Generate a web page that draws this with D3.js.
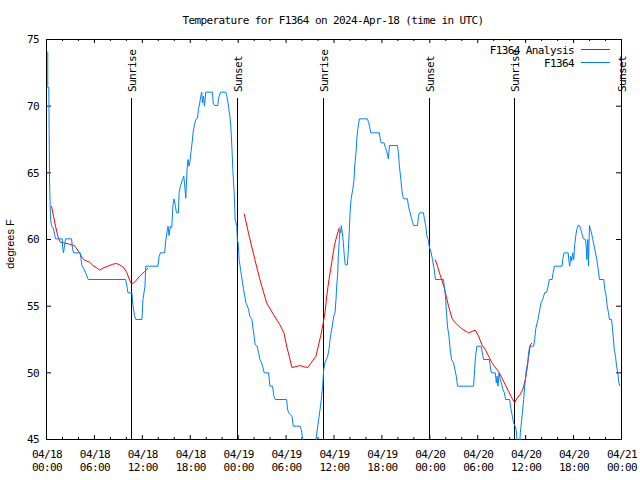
<!DOCTYPE html>
<html><head><meta charset="utf-8">
<script src="https://cdn.jsdelivr.net/npm/d3@7"></script>
<style>body{margin:0;background:#fff} svg{display:block}</style>
</head><body><svg id="c" width="640" height="480"></svg>
<script>
// ---------- data (hours since 2024-04-18 00:00 UTC, degrees F) ----------
const titleText = "Temperature for F1364 on 2024-Apr-18 (time in UTC)";
const yLabel = "degrees F";
const seriesNames = ["F1364 Analysis", "F1364"];
const yTicks = [45, 50, 55, 60, 65, 70, 75];
const xMajorHours = [0, 6, 12, 18, 24, 30, 36, 42, 48, 54, 60, 66, 72];
const xTickDates = ["04/18","04/18","04/18","04/18","04/19","04/19","04/19","04/19","04/20","04/20","04/20","04/20","04/21"];
const xTickTimes = ["00:00","06:00","12:00","18:00","00:00","06:00","12:00","18:00","00:00","06:00","12:00","18:00","00:00"];
const sunHours = [10.62, 23.92, 34.66, 47.96, 58.62, 71.99];
const sunLabels = ["Sunrise","Sunset","Sunrise","Sunset","Sunrise","Sunset"];

const observed = [[0.16,74.1],[0.16,71.4],[0.29,71.4],[0.38,64.5],[0.46,62.55],[0.50,61.5],[0.63,61.05],[0.88,60.8],[1.13,60.05],[1.97,60.05],[2.04,59.3],[2.13,59.0],[2.38,60.05],[3.14,60.05],[3.26,59.3],[3.39,59.0],[4.23,59.0],[4.33,58.5],[4.43,58.05],[4.68,57.8],[4.89,57.5],[5.23,57.0],[9.91,57.0],[10.07,56.5],[10.20,56.0],[10.70,56.0],[10.83,55.0],[11.04,54.25],[11.20,54.0],[11.95,54.0],[12.08,55.5],[12.33,56.5],[12.42,58.0],[13.96,58.0],[14.09,58.7],[14.26,59.0],[14.80,59.0],[14.93,59.9],[15.14,60.75],[15.22,61.0],[15.34,60.3],[15.52,61.0],[15.68,60.9],[15.84,62.6],[15.97,63.05],[16.14,62.5],[16.27,62.0],[16.52,62.0],[16.60,63.5],[16.77,64.0],[17.02,64.5],[17.19,64.75],[17.31,64.0],[17.44,63.1],[17.60,65.25],[17.72,66.0],[17.85,65.5],[17.94,65.75],[18.10,66.6],[18.23,67.25],[18.35,68.0],[18.53,68.6],[18.69,69.0],[18.90,69.1],[19.03,69.75],[19.19,70.25],[19.32,70.75],[19.44,71.05],[19.53,70.25],[19.66,70.75],[19.78,70.0],[19.94,71.05],[20.79,71.05],[20.86,70.25],[21.04,70.05],[21.45,70.05],[21.54,70.6],[21.79,71.05],[22.45,71.05],[22.58,70.75],[22.74,70.25],[22.87,69.6],[22.96,69.25],[23.08,68.5],[23.21,67.0],[23.33,65.25],[23.50,63.5],[23.62,61.5],[23.83,61.0],[23.90,59.9],[24.00,59.75],[24.12,58.5],[24.30,57.75],[24.42,57.25],[24.55,56.75],[24.67,56.25],[24.84,55.75],[24.96,55.25],[25.13,55.05],[25.30,54.75],[25.46,54.25],[25.72,54.0],[25.88,53.25],[26.00,52.75],[26.13,52.1],[26.38,52.0],[26.56,51.5],[26.72,51.0],[26.93,50.75],[27.06,50.5],[27.26,50.0],[27.81,50.0],[27.97,49.0],[28.31,49.0],[28.47,48.25],[28.64,48.0],[30.07,48.0],[30.19,47.25],[30.32,47.0],[30.73,46.75],[30.90,46.0],[31.74,46.0],[31.90,45.75],[32.08,45.0],[32.24,44.5],[33.24,44.3],[33.74,45.0],[33.91,45.75],[34.08,46.5],[34.25,47.25],[34.41,48.0],[34.58,49.0],[34.71,50.25],[34.87,50.75],[35.04,51.0],[35.21,51.25],[35.37,51.75],[35.50,52.5],[35.63,53.0],[35.79,53.5],[35.96,54.25],[36.13,54.5],[36.25,55.5],[36.34,56.5],[36.47,57.5],[36.54,58.75],[36.67,60.0],[36.75,60.75],[36.84,60.5],[36.92,61.05],[37.04,60.5],[37.17,59.75],[37.29,58.75],[37.42,58.1],[37.67,58.1],[37.80,59.25],[37.92,60.75],[38.01,62.0],[38.13,63.0],[38.35,63.75],[38.51,64.5],[38.60,65.6],[38.76,66.5],[38.85,67.5],[38.97,68.25],[39.18,69.05],[40.18,69.05],[40.35,68.75],[40.48,68.4],[40.60,68.0],[41.68,68.0],[41.77,67.6],[41.90,67.25],[42.27,67.25],[42.44,66.9],[42.61,66.6],[42.81,66.05],[42.94,67.05],[43.94,67.05],[44.07,66.5],[44.19,65.5],[44.37,64.5],[44.49,63.75],[44.62,63.25],[44.74,63.05],[45.20,63.05],[45.32,62.5],[45.53,62.0],[45.70,61.6],[45.87,61.25],[45.95,61.05],[46.45,61.05],[46.58,61.75],[46.70,62.0],[47.20,62.0],[47.33,61.5],[47.50,61.0],[47.63,60.25],[47.79,60.0],[47.92,59.5],[48.17,59.0],[48.33,58.5],[48.55,57.75],[48.71,57.0],[49.71,57.0],[49.80,56.5],[49.96,55.75],[50.09,54.5],[50.21,53.5],[50.39,52.75],[50.55,51.75],[50.72,51.0],[50.97,50.75],[51.14,50.25],[51.31,49.75],[51.47,49.0],[53.48,49.0],[53.60,50.25],[53.73,51.25],[53.90,52.0],[54.44,52.0],[54.57,51.5],[54.73,51.0],[55.44,51.0],[55.57,50.5],[55.70,50.0],[56.20,50.0],[56.32,49.25],[56.41,49.75],[56.54,49.0],[56.66,50.0],[56.82,49.5],[56.95,49.25],[57.16,48.75],[57.33,48.5],[57.49,48.0],[57.99,48.0],[58.17,47.25],[58.33,46.75],[58.49,46.25],[58.67,46.0],[58.80,45.75],[58.92,45.0],[59.05,44.6],[59.25,44.6],[59.33,45.5],[59.46,46.25],[59.59,47.0],[59.75,48.0],[59.92,49.25],[60.09,50.25],[60.25,50.75],[60.37,51.5],[60.50,52.0],[61.00,52.0],[61.13,52.5],[61.25,53.25],[61.43,53.75],[61.55,54.0],[61.76,54.75],[61.93,55.25],[62.13,55.5],[62.26,55.75],[62.38,56.0],[62.63,56.05],[62.81,56.5],[62.97,57.0],[63.31,57.0],[63.44,57.5],[63.60,58.0],[64.56,58.0],[64.64,58.5],[64.81,59.0],[65.32,59.0],[65.39,58.5],[65.52,58.0],[65.64,58.75],[65.77,58.4],[65.89,59.0],[66.02,58.5],[66.14,59.6],[66.27,60.25],[66.40,60.75],[66.57,61.05],[66.74,61.05],[66.90,60.75],[67.07,60.4],[67.24,60.05],[67.49,60.0],[67.61,59.25],[67.65,58.5],[67.78,60.0],[67.86,58.0],[67.99,61.05],[68.11,60.75],[68.24,60.5],[68.40,60.0],[68.58,59.5],[68.74,59.0],[68.91,58.5],[69.08,57.75],[69.24,57.0],[69.78,57.0],[69.91,56.25],[70.08,55.75],[70.21,55.0],[70.37,54.5],[70.50,54.0],[70.75,54.0],[70.84,53.5],[70.96,52.75],[71.09,51.75],[71.25,51.25],[71.38,50.5],[71.54,50.0],[71.67,49.25],[71.79,49.0]];

const analysisDay1 = [[0.63,62.5],[0.88,61.75],[1.13,61.0],[1.42,60.25],[1.72,59.8],[2.13,59.75],[2.89,59.65],[3.51,59.55],[3.80,59.3],[4.14,59.0],[4.48,58.6],[4.77,58.45],[5.39,58.3],[5.81,58.05],[6.23,57.9],[6.65,57.7],[7.06,57.85],[7.69,58.0],[8.32,58.15],[8.74,58.2],[9.16,58.1],[9.66,57.9],[10.07,57.5],[10.41,56.95],[10.66,56.65],[11.04,56.8],[11.67,57.25],[12.29,57.6],[12.71,57.85]];
const analysisDay2 = [[24.75,61.95],[25.38,60.25],[26.09,58.5],[26.72,57.0],[27.56,55.25],[28.39,54.4],[29.23,53.6],[29.73,53.0],[30.07,52.0],[30.39,51.25],[30.73,50.4],[31.11,50.45],[31.74,50.55],[32.24,50.45],[32.70,50.4],[33.33,50.9],[33.74,51.25],[34.03,52.0],[34.33,52.75],[34.58,53.5],[34.87,54.5],[35.09,55.75],[35.37,57.0],[35.71,58.25],[36.04,59.5],[36.34,60.25],[36.67,60.9]];
const analysisDay3 = [[48.67,58.5],[48.96,58.0],[49.21,57.5],[49.80,56.4],[50.05,55.75],[50.34,55.0],[50.77,54.1],[51.18,53.75],[52.02,53.3],[52.85,53.0],[53.69,53.2],[54.10,52.75],[54.53,52.1],[54.94,51.75],[55.36,51.25],[55.78,50.75],[56.20,50.4],[56.61,50.1],[57.04,49.6],[57.45,49.1],[57.87,48.6],[58.29,48.1],[58.62,47.75],[58.92,48.1],[59.33,48.4],[59.67,48.8],[59.96,49.5],[60.17,50.25],[60.37,51.25],[60.59,52.1],[60.80,52.25]];

// ---------- drawing ----------
const RED = "#ff0000", BLUE = "#0080ff";
const MONO = "'DejaVu Sans Mono', monospace";
const start = Date.UTC(2024, 3, 18);
const toDate = h => new Date(start + h * 3600e3);

const svg = d3.select("#c");
const x = d3.scaleUtc().domain([toDate(0), toDate(72)]).range([46, 621]);
const y = d3.scaleLinear().domain([45, 75]).range([439, 39]);

function monoText(sel, size) {
  sel.attr("font-family", MONO).attr("font-size", size).attr("letter-spacing", "-0.6px").attr("fill", "#000");
}

// clip
svg.append("defs").append("clipPath").attr("id", "plot")
  .append("rect").attr("x", 46).attr("y", 39).attr("width", 576).attr("height", 401);

// axes (ticks point inward)
const minorHours = d3.range(0, 73, 2).filter(h => h % 6 !== 0);
function styleAxis(g) {
  g.select(".domain").remove();
  g.selectAll("line").attr("stroke", "#000");
}
svg.append("g").attr("transform", "translate(0,439)")
  .call(d3.axisBottom(x).tickValues(minorHours.map(toDate)).tickSize(-2).tickFormat(""))
  .call(styleAxis);
svg.append("g").attr("transform", "translate(0,39)")
  .call(d3.axisTop(x).tickValues(minorHours.map(toDate)).tickSize(-2).tickFormat(""))
  .call(styleAxis);
svg.append("g").attr("transform", "translate(0,39)")
  .call(d3.axisTop(x).tickValues(xMajorHours.map(toDate)).tickSize(-4).tickFormat(""))
  .call(styleAxis);
const xAx = svg.append("g").attr("transform", "translate(0,439)")
  .call(d3.axisBottom(x).tickValues(xMajorHours.map(toDate)).tickSize(-4).tickFormat((d, i) => xTickDates[i]))
  .call(styleAxis);
xAx.selectAll("text").each(function(d, i) {
  const t = d3.select(this).attr("dy", null).attr("y", null).text(null).call(monoText, 11);
  t.append("tspan").attr("x", 0.5).attr("y", 18.5).text(xTickDates[i]);
  t.append("tspan").attr("x", 0.5).attr("y", 32).text(xTickTimes[i]);
});

const yAx = svg.append("g").attr("transform", "translate(46,0)")
  .call(d3.axisLeft(y).tickValues(yTicks).tickSize(-5).tickPadding(7))
  .call(styleAxis);
yAx.selectAll("text").call(monoText, 11).attr("dy", "0.36em");
svg.append("g").attr("transform", "translate(621,0)")
  .call(d3.axisRight(y).tickValues(yTicks).tickSize(-5).tickFormat(""))
  .call(styleAxis);

// border
svg.append("rect").attr("x", 46.5).attr("y", 39.5).attr("width", 575).attr("height", 400)
  .attr("fill", "none").attr("stroke", "#000").attr("stroke-width", 1);

// sunrise / sunset
sunHours.forEach((h, i) => {
  const px = Math.round(x(toDate(h))) + 0.5;
  svg.append("line").attr("x1", px).attr("x2", px).attr("y1", 98).attr("y2", 439.5)
    .attr("stroke", "#000").attr("stroke-width", 1);
  svg.append("text").attr("transform", `translate(${px + 4.5},92) rotate(-90)`)
    .attr("text-anchor", "start").call(monoText, 11).text(sunLabels[i]);
});

// series
const line = d3.line().x(d => x(toDate(d[0])) + 0.5).y(d => y(d[1]) + 0.5);
const plotG = svg.append("g").attr("clip-path", "url(#plot)");
[analysisDay1, analysisDay2, analysisDay3].forEach(seg => {
  plotG.append("path").datum(seg).attr("d", line)
    .attr("fill", "none").attr("stroke", RED).attr("stroke-width", 1);
});
plotG.append("path").datum(observed).attr("d", line)
  .attr("fill", "none").attr("stroke", BLUE).attr("stroke-width", 1);

// legend
const legendY = [49.5, 62.5];
const legendColors = [RED, BLUE];
seriesNames.forEach((name, i) => {
  svg.append("text").attr("x", 574).attr("y", legendY[i] + 4.5).attr("text-anchor", "end")
    .call(monoText, 11).text(name);
  svg.append("line").attr("x1", 581).attr("x2", 610).attr("y1", legendY[i]).attr("y2", legendY[i])
    .attr("stroke", legendColors[i]).attr("stroke-width", 1);
});

// title and y label
svg.append("text").attr("x", 333).attr("y", 23.5).attr("text-anchor", "middle")
  .call(monoText, 11).text(titleText);
svg.append("text").attr("transform", "translate(14,244) rotate(-90)").attr("text-anchor", "middle")
  .attr("font-family", "'Liberation Sans', Arial, sans-serif").attr("font-size", 11).attr("fill", "#000")
  .text(yLabel);
</script></body></html>
